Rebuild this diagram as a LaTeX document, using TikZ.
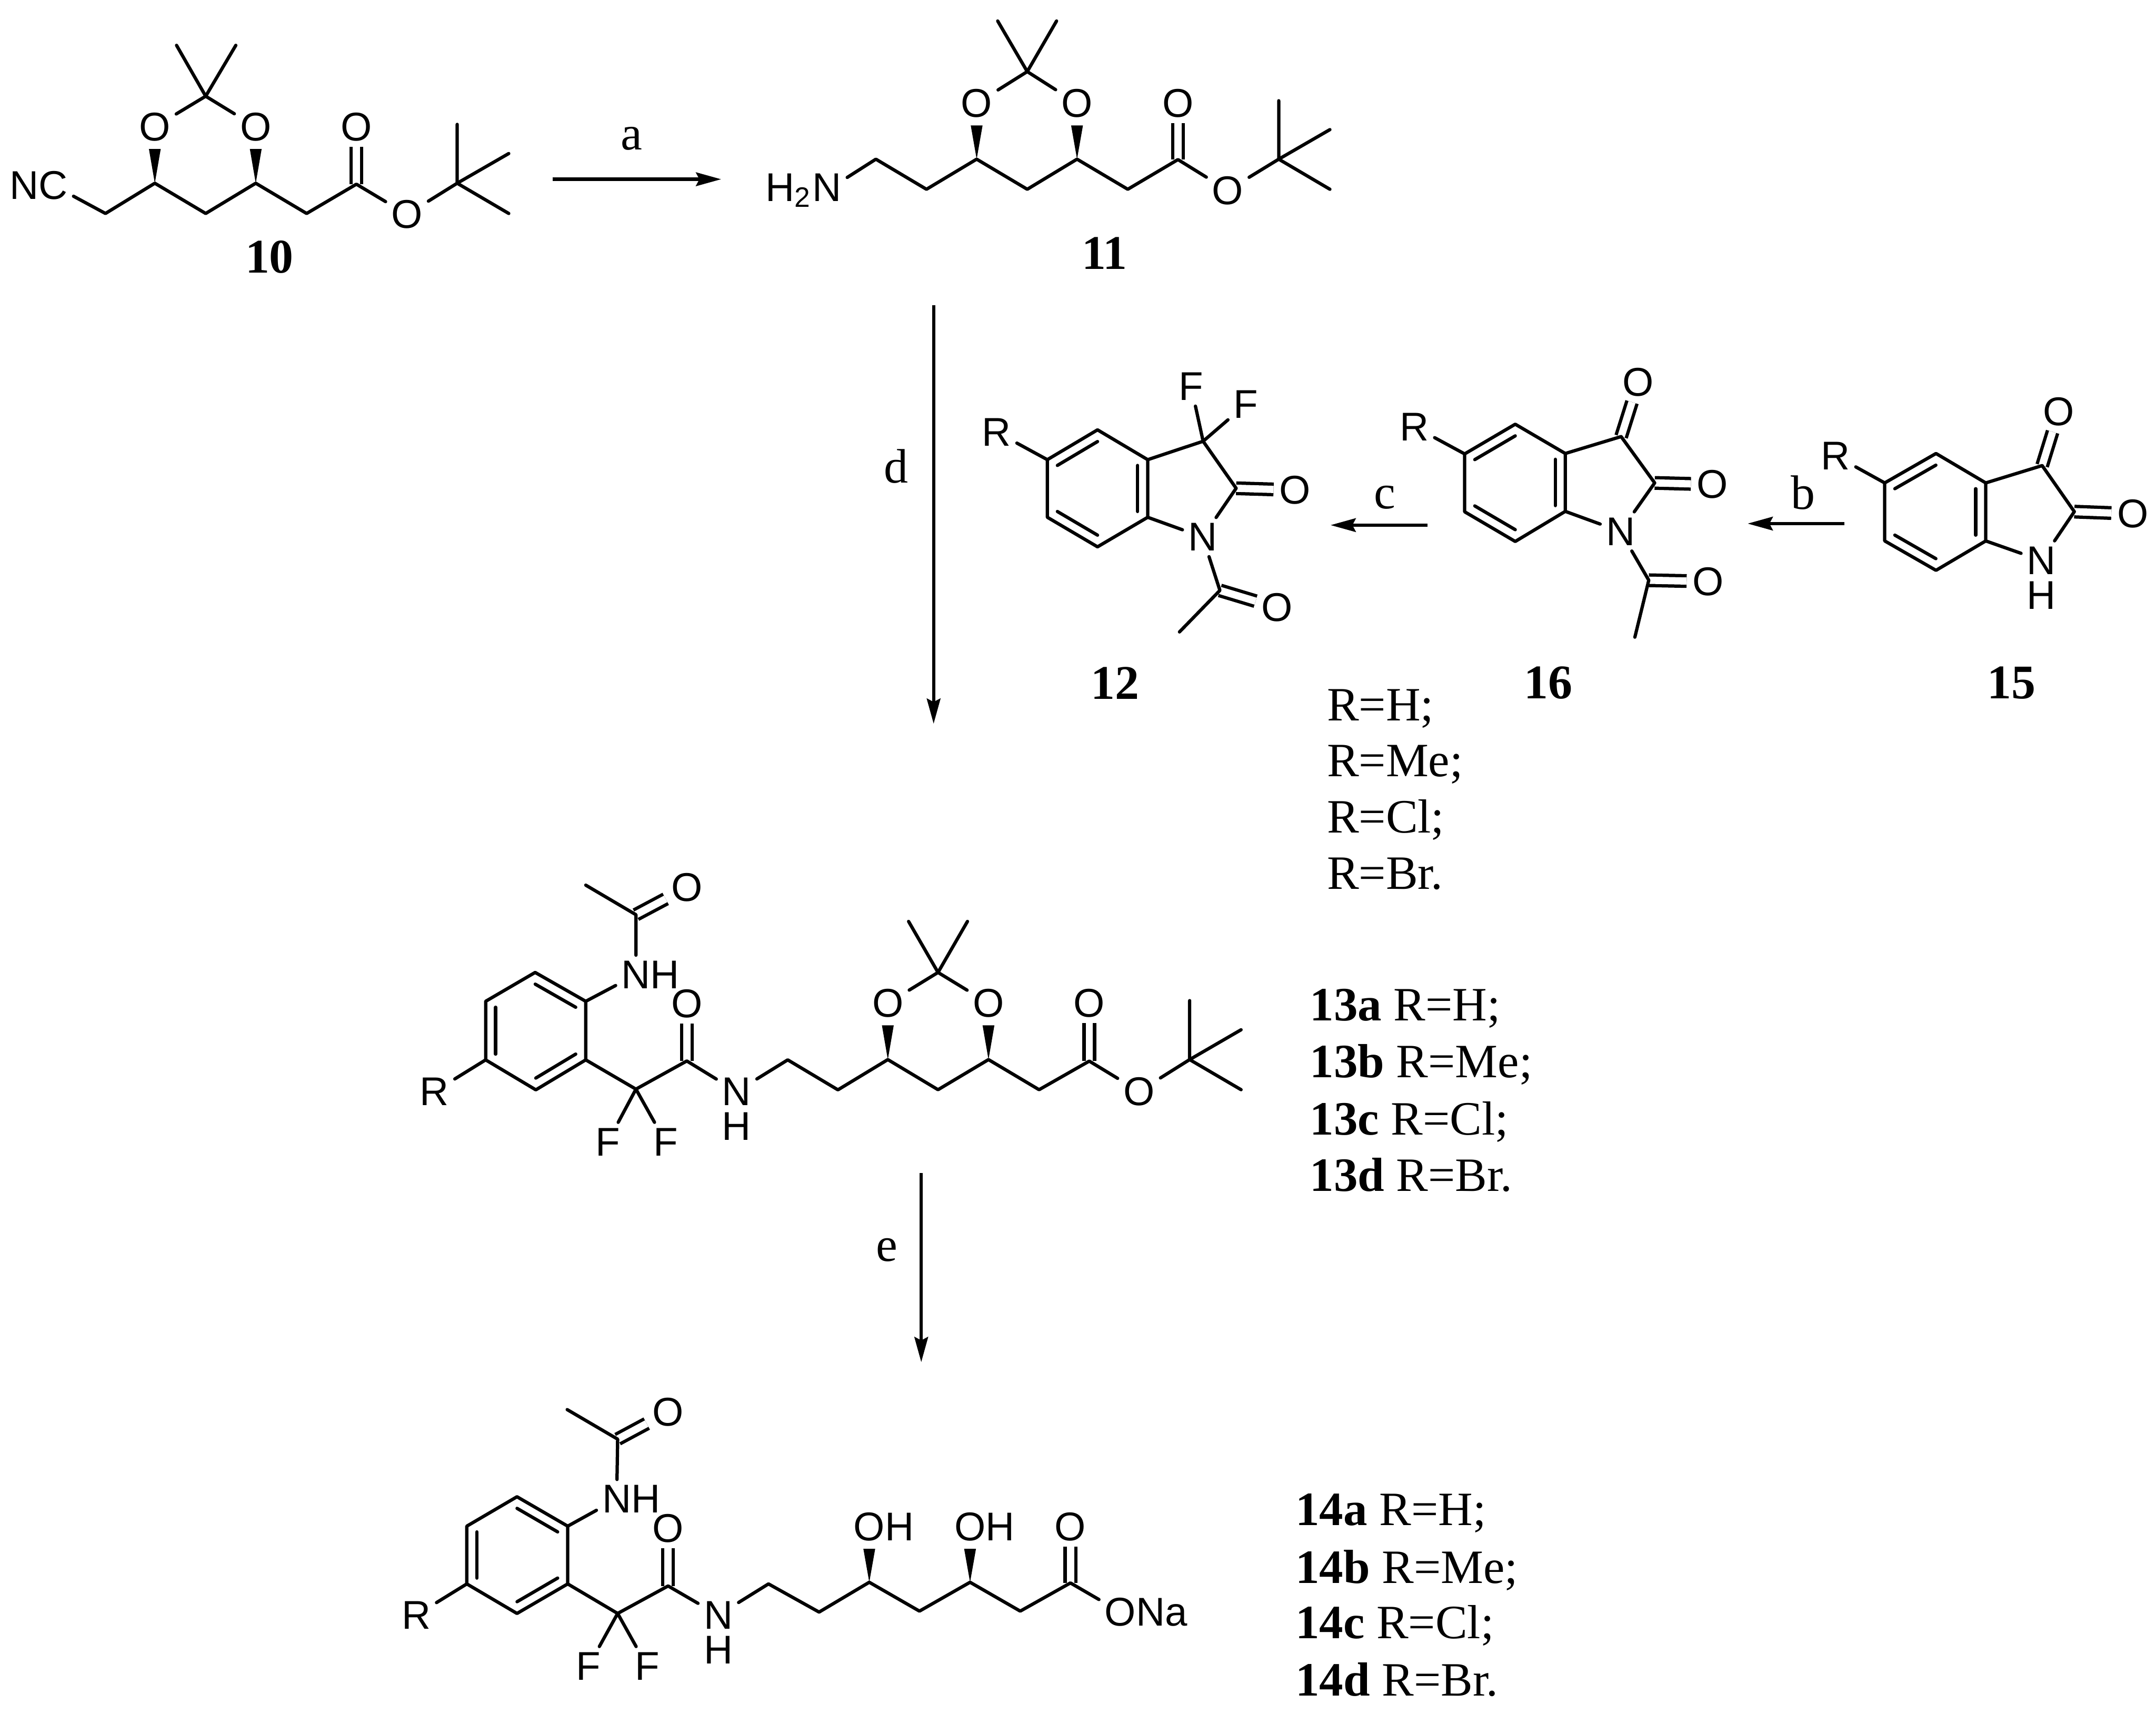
\documentclass[tikz,border=0pt]{standalone}
\usepackage{fontspec}
\setmainfont{Liberation Serif}
\setsansfont{Liberation Sans}
\usetikzlibrary{arrows.meta, calc, positioning}

\tikzset{
  atom/.style={inner sep=1pt, font=\sffamily\fontsize{8.3}{10}\selectfont},
  bond/.style={line width=0.68pt, line cap=round, line join=round},
  dbond/.style={double, double distance=1.5pt, line width=0.68pt},
  rxn/.style={->, line width=0.68pt},
  rxnlabel/.style={inner sep=0pt},
  compound/.style={inner sep=0pt, font=\bfseries\fontsize{10}{12}\selectfont},
  rlist/.style={inner sep=0pt, anchor=base west, font=\fontsize{9.9}{12}\selectfont}
}

\newcommand{\ringdb}[3]{\draw[bond] ($(#1)!.2!(#3)$) -- ($(#2)!.2!(#3)$);}
\newcommand{\wedgebond}[2]{\fill (#1) -- ($(#2.south)+(-4.3,1.5)$) -- ($(#2.south)+(4.3,1.5)$) -- cycle;}

\begin{document}
\begin{tikzpicture}[>={Stealth[length=5.2pt,width=2.8pt,inset=0.7pt]}, x=0.01cm, y=-0.01cm, font=\fontsize{10}{12}\selectfont]
  \useasboundingbox (0,0) rectangle (1568,1246.5);

  \foreach \nm/\xx/\yy in {c10a/76.7/155.3, c10b/112.6/133.3, c10c/149.6/155.3, c10d/186/133.3, c10e/223/155.3,
      c10f/259.2/134, c10g/332.5/133.3, c10h/149.6/70, c10i/128.4/33, c10j/171.5/33, c10k/332.5/90.5, c10l/370/111.7, c10m/370/155.3,
      c11a/637/115.8, c11b/673.8/137.7, c11c/710.3/115.8, c11d/747.1/137.7, c11e/783.3/115.8, c11f/820.2/137.7, c11g/856.7/116.1,
      c11h/930/115.8, c11i/747.1/52.1, c11j/725.6/15.3, c11k/768.4/15.3, c11l/930/73.3, c11m/967.2/94.3, c11n/967.2/137.7,
      c12a/761.7/334.4, c12b/798.2/312.7, c12c/834.7/334.4, c12d/834.7/376.3, c12e/798.2/397.8, c12f/761.7/376.3, rc12/798.2/355.3,
      c12g/875/321, c12h/899/355.2, c12i/887.2/429.5, c12j/857.8/459.7,
      c16a/1065.2/330.2, c16b/1102/308.6, c16c/1138.4/329.9, c16d/1138.4/372, c16e/1102/393.9, c16f/1065.2/372.3, rc16/1102/351,
      c16g/1179/317.6, c16h/1203.4/351.3, c16i/1199.1/422.1, c16j/1189/463.5,
      c15a/1370.7/351.3, c15b/1408/329.9, c15c/1444.2/351.3, c15d/1444.2/393.5, c15e/1408/414.9, c15f/1370.7/393.5, rc15/1407.5/372.4,
      c15g/1485.2/338.7, c15h/1508.6/372.2,
      c13a/353.2/771, c13b/353.2/728.4, c13c/389.2/707.4, c13d/426/728.4, c13e/426/771, c13f/389.7/792.8, rc13/389.5/750,
      c13g/462.5/665.4, c13h/426/643.9, c13i/462.5/792.3, c13j/499.5/771.8, c13k/572.9/771, c13l/609.4/792.8, c13m/645.7/770.8,
      c13n/682.2/792.7, c13p/718.9/770.8, c13q/755.7/792.7, c13s/792.2/771.9, c13t/865.2/770.8, c13u/682.2/707.4, c13v/660.8/670.3,
      c13w/703.6/670.3, c13x/865.2/727.9, c13y/902.6/749.1, c13z/902.6/792.7,
      c14a/339.5/1152.2, c14b/339.5/1110.2, c14c/376/1088.8, c14d/412.9/1110.2, c14e/412.9/1152.2, c14f/376/1173.7, rc14/376.2/1131,
      c14g/449.2/1046.9, c14h/412.5/1025.4, c14i/449.2/1173.7, c14j/485.9/1153.7, c14k/558.9/1152.2, c14l/595.7/1172.7, c14m/632.2/1151,
      c14n/668.7/1172, c14p/705.5/1151, c14q/742/1172, c14s/778.5/1151.5} {
    \coordinate (\nm) at (\xx,\yy);
  };

  \foreach \nm/\xx/\yy in {o10a/112.6/92.3, o10b/186/92.3, o10c/259.2/92.3, o10d/296/156,
      o11a/710.3/75.2, o11b/783.3/75.2, o11c/856.7/75.2, o11d/892.9/138.5,
      o12a/941.8/356.5, o12b/928.7/442,
      o16a/1191.5/278, o16b/1245.3/352.4, o16c/1242.2/423,
      o15a/1497.3/299.6, o15b/1551.1/373.8,
      o13a/499.7/645.6, o13b/499.5/730.1, o13c/645.7/729.8, o13d/718.9/729.8, o13e/792.2/729.8, o13f/828.4/793.9,
      o14a/485.9/1027.2, o14b/485.9/1111.7, o14e/778.5/1110.6} {
    \node[atom] (\nm) at (\xx,\yy) {O};
  };
  \foreach \nm/\xx/\yy in {f12a/866.3/281.2, f12b/906.2/294.1, f13a/442/830.7, f13b/484/830.7, f14a/428/1212, f14b/470.6/1212} {
    \node[atom] (\nm) at (\xx,\yy) {F};
  };
  \foreach \nm/\xx/\yy in {r12/724.8/314.3, r16/1028.6/310.4, r15/1334.9/331.5, r13/316/794, r14/302.7/1174.9} {
    \node[atom] (\nm) at (\xx,\yy) {R};
  };
  \foreach \nm/\xx/\yy in {n12/874.7/390.7, n16/1178.5/386.6, n15/1484.6/407.7, n13b/535.7/794, n14b/522.4/1174.9} {
    \node[atom] (\nm) at (\xx,\yy) {N};
  };
  \foreach \nm in {n15, n13b, n14b} {
    \node[atom, below=-0.9pt of \nm] (h\nm) {H};
  };

  \node[atom] (nc10) at (38.7,134.8) {\llap{N}C};
  \node[atom] (n11) at (601.4,138.5) {\llap{H\textsubscript{2}}N};
  \node[atom] (n13a) at (462.5,709.1) {N\rlap{H}};
  \node[atom] (n14a) at (448.5,1090.5) {N\rlap{H}};
  \node[atom] (o14c) at (632.2,1110.6) {O\rlap{H}};
  \node[atom] (o14d) at (705.5,1110.6) {O\rlap{H}};
  \node[atom] (o14f) at (814.8,1172.6) {O\rlap{Na}};

  \foreach \a/\b in {c10f/o10c, c11g/o11c, c12h/o12a, c12i/o12b, c16g/o16a, c16h/o16b, c16i/o16c, c15g/o15a, c15h/o15b,
      c13g/o13a, c13j/o13b, c13s/o13e, c14g/o14a, c14j/o14b, c14s/o14e} {
    \draw[dbond] (\a) -- (\b);
  };

  \draw[bond] (nc10) -- (c10a) -- (c10b) -- (c10c) -- (c10d) -- (c10e) -- (c10f) -- (o10d) -- (c10g) -- (c10k);
  \draw[bond] (c10l) -- (c10g) -- (c10m);
  \draw[bond] (o10a) -- (c10h) -- (o10b);
  \draw[bond] (c10i) -- (c10h) -- (c10j);
  \wedgebond{c10b}{o10a}
  \wedgebond{c10d}{o10b}

  \draw[bond] (n11) -- (c11a) -- (c11b) -- (c11c) -- (c11d) -- (c11e) -- (c11f) -- (c11g) -- (o11d) -- (c11h) -- (c11l);
  \draw[bond] (c11m) -- (c11h) -- (c11n);
  \draw[bond] (o11a) -- (c11i) -- (o11b);
  \draw[bond] (c11j) -- (c11i) -- (c11k);
  \wedgebond{c11c}{o11a}
  \wedgebond{c11e}{o11b}

  \draw[bond] (c12a) -- (c12b) -- (c12c) -- (c12d) -- (c12e) -- (c12f) -- cycle;
  \draw[bond] (c12c) -- (c12g) -- (c12h) -- (n12) -- (c12d);
  \draw[bond] (r12) -- (c12a);
  \draw[bond] (f12a) -- (c12g) -- (f12b);
  \draw[bond] (n12) -- (c12i) -- (c12j);
  \ringdb{c12a}{c12b}{rc12}
  \ringdb{c12c}{c12d}{rc12}
  \ringdb{c12e}{c12f}{rc12}

  \draw[bond] (c16a) -- (c16b) -- (c16c) -- (c16d) -- (c16e) -- (c16f) -- cycle;
  \draw[bond] (c16c) -- (c16g) -- (c16h) -- (n16) -- (c16d);
  \draw[bond] (r16) -- (c16a);
  \draw[bond] (n16) -- (c16i) -- (c16j);
  \ringdb{c16a}{c16b}{rc16}
  \ringdb{c16c}{c16d}{rc16}
  \ringdb{c16e}{c16f}{rc16}

  \draw[bond] (c15a) -- (c15b) -- (c15c) -- (c15d) -- (c15e) -- (c15f) -- cycle;
  \draw[bond] (c15c) -- (c15g) -- (c15h) -- (n15) -- (c15d);
  \draw[bond] (r15) -- (c15a);
  \ringdb{c15a}{c15b}{rc15}
  \ringdb{c15c}{c15d}{rc15}
  \ringdb{c15e}{c15f}{rc15}

  \draw[bond] (c13a) -- (c13b) -- (c13c) -- (c13d) -- (c13e) -- (c13f) -- cycle;
  \draw[bond] (r13) -- (c13a);
  \draw[bond] (c13d) -- (n13a) -- (c13g) -- (c13h);
  \draw[bond] (c13e) -- (c13i) -- (c13j) -- (n13b) -- (c13k) -- (c13l) -- (c13m) -- (c13n) -- (c13p) -- (c13q) -- (c13s) -- (o13f) -- (c13t) -- (c13x);
  \draw[bond] (f13a) -- (c13i) -- (f13b);
  \draw[bond] (c13y) -- (c13t) -- (c13z);
  \draw[bond] (o13c) -- (c13u) -- (o13d);
  \draw[bond] (c13v) -- (c13u) -- (c13w);
  \ringdb{c13b}{c13a}{rc13}
  \ringdb{c13c}{c13d}{rc13}
  \ringdb{c13e}{c13f}{rc13}
  \wedgebond{c13m}{o13c}
  \wedgebond{c13p}{o13d}

  \draw[bond] (c14a) -- (c14b) -- (c14c) -- (c14d) -- (c14e) -- (c14f) -- cycle;
  \draw[bond] (r14) -- (c14a);
  \draw[bond] (c14d) -- (n14a) -- (c14g) -- (c14h);
  \draw[bond] (c14e) -- (c14i) -- (c14j) -- (n14b) -- (c14k) -- (c14l) -- (c14m) -- (c14n) -- (c14p) -- (c14q) -- (c14s) -- (o14f);
  \draw[bond] (f14a) -- (c14i) -- (f14b);
  \ringdb{c14b}{c14a}{rc14}
  \ringdb{c14c}{c14d}{rc14}
  \ringdb{c14e}{c14f}{rc14}
  \wedgebond{c14m}{o14c}
  \wedgebond{c14p}{o14d}

  \foreach \nm/\xx/\yy in {10/196/187, 11/803.3/184.2, 12/811/496.8, 16/1126/496.8, 15/1463/496.8} {
    \node[compound] (cmp\nm) at (\xx,\yy) {\nm};
  };

  \foreach \nm/\xx/\yy in {aa/401.8/130.4, ab/524.5/130.4, ba/1341.5/380.9, bb/1271/380.9, ca/1038/382, cb/967.7/382,
      da/679/222, db/679/526.5, ea/670/853.4, eb/670/990.9} {
    \coordinate (\nm) at (\xx,\yy);
  };
  \draw[rxn] (aa) -- (ab) node[rxnlabel, pos=.47, above=5.7pt] (stepa) {a};
  \draw[rxn] (ba) -- (bb) node[rxnlabel, pos=.43, above=2.6pt] (stepb) {b};
  \draw[rxn] (ca) -- (cb) node[rxnlabel, pos=.44, above=3pt] (stepc) {c};
  \draw[rxn] (da) -- (db) node[rxnlabel, pos=.385, left=4.9pt] (stepd) {d};
  \draw[rxn] (ea) -- (eb) node[rxnlabel, pos=.406, left=4.6pt] (stepe) {e};

  \foreach \nm/\yy/\txt in {h/524.2/H;, me/564.9/Me;, cl/605.8/Cl;, br/646.6/Br.} {
    \node[rlist] (r\nm) at (964.4,\yy) {R=\txt};
  };
  \foreach \nm/\yy/\txt in {a/742.5/H;, b/784/Me;, c/825.5/Cl;, d/866.4/Br.} {
    \node[rlist] (list13\nm) at (952,\yy) {\textbf{13\nm} R=\txt};
  };
  \foreach \nm/\yy/\txt in {a/1109.7/H;, b/1151.6/Me;, c/1191.9/Cl;, d/1233.7/Br.} {
    \node[rlist] (list14\nm) at (941.5,\yy) {\textbf{14\nm} R=\txt};
  };
\end{tikzpicture}
\end{document}
